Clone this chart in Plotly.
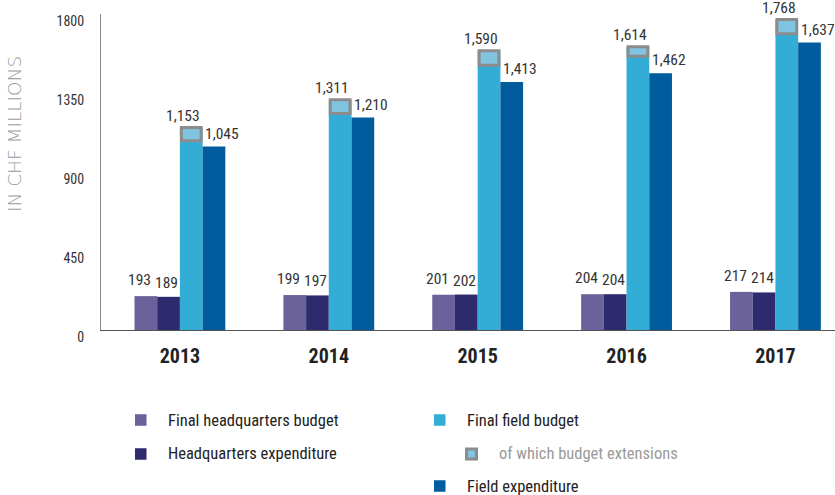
import plotly.graph_objects as go

years = ["2013", "2014", "2015", "2016", "2017"]
hq_budget = [193, 199, 201, 204, 217]
hq_expenditure = [189, 197, 202, 204, 214]
field_budget = [1153, 1311, 1590, 1614, 1768]
budget_extensions = [75, 78, 82, 55, 80]
field_expenditure = [1045, 1210, 1413, 1462, 1637]
y_ticks = [0, 450, 900, 1350, 1800]

series_names = ["Final headquarters budget", "Headquarters expenditure",
                "Final field budget", "Field expenditure"]
series_values = [hq_budget, hq_expenditure, field_budget, field_expenditure]
colors = ["#6b619b", "#2d2a6e", "#33acd6", "#005c9c"]
ext_fill = "#80c4e2"
ext_line = "#8c8c8c"

FONT = "Liberation Sans Narrow, Roboto Condensed, DejaVu Sans Condensed, sans-serif"
W, H = 835, 495
ML, MR, MT, MB = 101, 0, 14, 165

xs = list(range(len(years)))
bw = 0.1525
offsets = [-0.305 + bw * k for k in range(4)]
label_xshift = [-6, -2, -8, 8]
label_yshift = [16, 14, 12, 13]

fig = go.Figure()
for k, (name, vals, col) in enumerate(zip(series_names, series_values, colors)):
    fig.add_trace(go.Bar(x=xs, y=vals, name=name, marker_color=col,
                         marker_line_width=0, offset=offsets[k], width=bw,
                         showlegend=False, hoverinfo="y"))

# budget extensions box sitting on top of the field budget bar
fig.add_trace(go.Bar(x=xs, y=budget_extensions,
                     base=[t - e for t, e in zip(field_budget, budget_extensions)],
                     marker=dict(color=ext_fill, line=dict(color=ext_line, width=3)),
                     offset=offsets[2] + 0.01, width=bw - 0.02,
                     showlegend=False, name="of which budget extensions"))

annotations = []
for k, vals in enumerate(series_values):
    for i, v in enumerate(vals):
        annotations.append(dict(x=xs[i] + offsets[k] + bw / 2, y=v, xref="x", yref="y",
                                text=f"{v:,}", showarrow=False, xshift=label_xshift[k],
                                yshift=label_yshift[k], yanchor="middle",
                                font=dict(family=FONT, size=15.5, color="#333333")))


def px(xp):
    return (xp - ML) / (W - ML - MR)


def py(yp):
    return (H - MB - yp) / (H - MT - MB)


annotations.append(dict(x=px(14), y=py(134), xref="paper", yref="paper",
                        xanchor="center", yanchor="middle",
                        text="IN CHF MILLIONS", textangle=-90, showarrow=False,
                        font=dict(family="DejaVu Sans", weight=200, size=18.5, color="#9a9a9a")))

legend_items = [
    (135, 420, "Final headquarters budget", colors[0], None, "#222222", 166),
    (135, 454, "Headquarters expenditure", colors[1], None, "#222222", 166),
    (434, 420, "Final field budget", colors[2], None, "#222222", 465),
    (465, 454, "of which budget extensions", ext_fill, ext_line, "#9a9a9a", 497),
    (434, 486, "Field expenditure", colors[3], None, "#222222", 465),
]
shapes = []
for x0, yc, text, fill, line, tcol, tx in legend_items:
    s = 11.5 if line is None else 10
    shapes.append(dict(type="rect", xref="paper", yref="paper",
                       x0=px(x0 + (0 if line is None else 1.5)),
                       x1=px(x0 + (s if line is None else 1.5 + s)),
                       y0=py(yc - s / 2), y1=py(yc + s / 2),
                       fillcolor=fill,
                       line=dict(color=line if line else fill, width=3 if line else 0)))
    annotations.append(dict(x=px(tx), y=py(yc), xref="paper", yref="paper", text=text,
                            showarrow=False, xanchor="left", yanchor="middle",
                            font=dict(family=FONT, size=16.5, color=tcol)))

fig.update_layout(
    width=W, height=H, margin=dict(l=ML, r=MR, t=MT, b=MB, autoexpand=False),
    paper_bgcolor="white", plot_bgcolor="white",
    barmode="overlay",
    annotations=annotations, shapes=shapes,
    xaxis=dict(range=[-0.53, 4.40], tickvals=xs, ticktext=years, showgrid=False,
               automargin=False,
               zeroline=False, showline=True, linecolor="#555555", linewidth=1,
               ticks="", ticklabelstandoff=8,
               tickfont=dict(family=FONT, size=20, color="#222222", weight="bold")),
    yaxis=dict(range=[0, 1800], tickvals=y_ticks, showgrid=False, zeroline=False,
               automargin=False,
               showline=True, linecolor="#888888", linewidth=1, ticks="",
               ticklabelstandoff=13, ticklabelshift=7,
               tickfont=dict(family=FONT, size=14, color="#333333")),
)

fig.write_html("out.html", config={"displayModeBar": False},
               post_script="document.body.style.margin='0';document.body.style.overflow='hidden';")
